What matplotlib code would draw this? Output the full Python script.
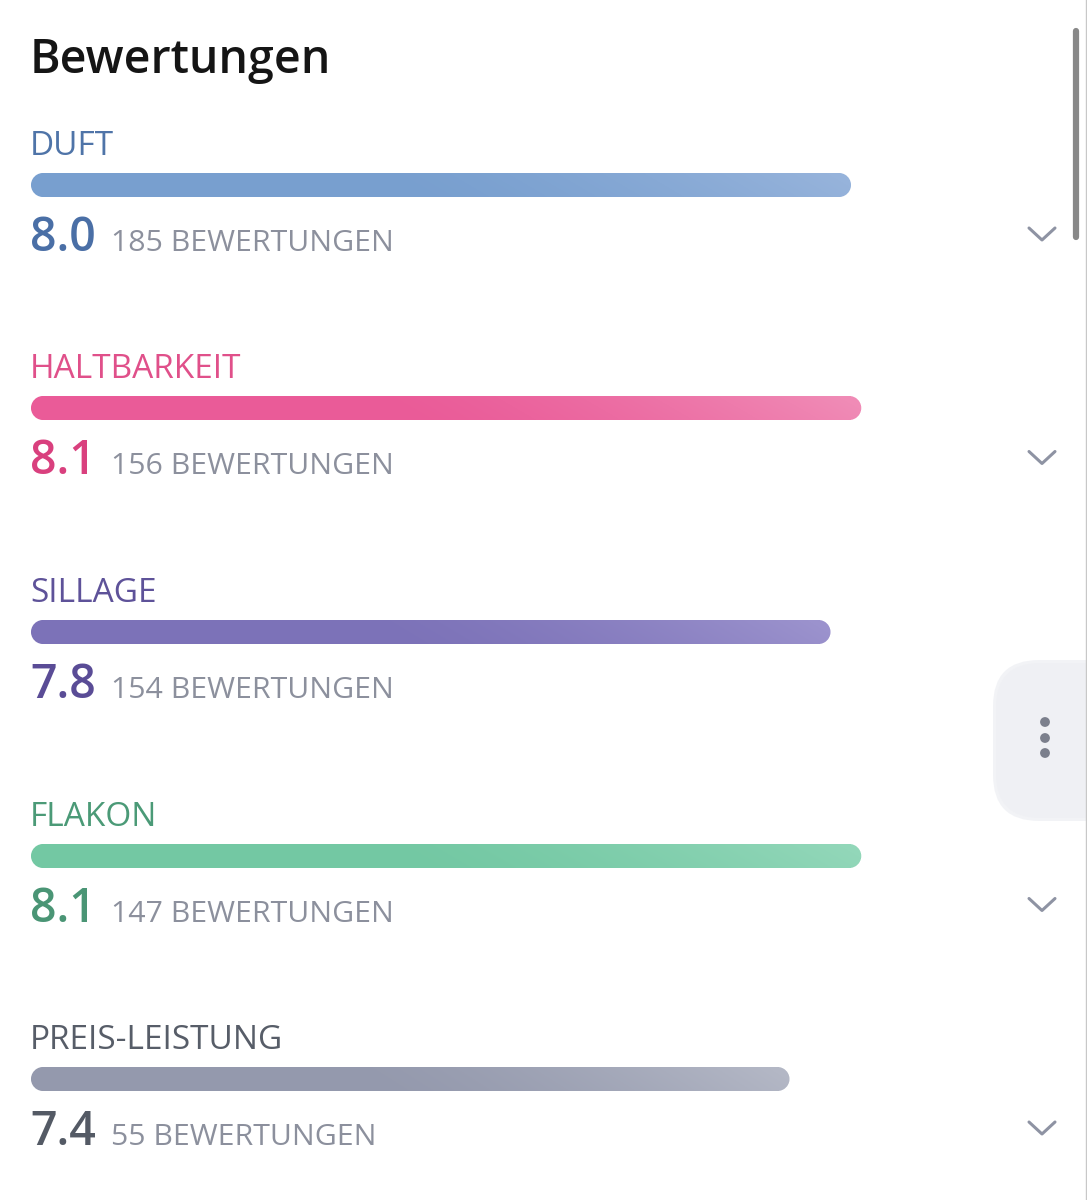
import numpy as np
import matplotlib.pyplot as plt
from matplotlib.patches import FancyBboxPatch
from matplotlib.colors import to_rgb

# Daten
categories = ['DUFT', 'HALTBARKEIT', 'SILLAGE', 'FLAKON', 'PREIS-LEISTUNG']
scores = [8.0, 8.1, 7.8, 8.1, 7.4]
counts = [185, 156, 154, 147, 55]

# Farben: Label, Wert, Balken-Start, Balken-Ende
label_colors = ['#4f74a8', '#e0508a', '#5e5299', '#4b9a77', '#575d68']
value_colors = ['#4a6fa6', '#d9407e', '#5a4c96', '#4a9575', '#545a65']
bar_start = ['#789fcf', '#ea5b98', '#7c72b8', '#73c8a3', '#9499ad']
bar_end = ['#96b3db', '#f08bb6', '#9b92cd', '#92d7b9', '#b3b7c5']

W, H = 1087, 1200
FONT = 'Open Sans'
fig = plt.figure(figsize=(W / 100, H / 100), dpi=100)
fig.patch.set_facecolor('white')

# Pixel-Achse fuer Texte, Balken und Deko
ax = fig.add_axes([0, 0, 1, 1])
ax.set_xlim(0, W)
ax.set_ylim(H, 0)
ax.axis('off')

# Skalen-Achse: x = Score (0..10)
x0, px_per_pt = 31, 102.5
bx = fig.add_axes([x0 / W, 0, 10 * px_per_pt / W, 1])
bx.set_xlim(0, 10)
bx.set_ylim(H, 0)
bx.axis('off')


def score_to_px(v):
    # Score -> Pixel ueber die Transformationen der Achsen
    disp = bx.transData.transform((v, 0))
    return ax.transData.inverted().transform(disp)[0]


def capsule_image(xa, xb, h, c0, c1, ss=4):
    # RGBA-Bild einer Pille mit Verlauf, Kanten per Supersampling geglaettet
    w = int(np.ceil(xb - xa))
    r = h / 2
    xs = (np.arange(w * ss) + 0.5) / ss
    ys = (np.arange(h * ss) + 0.5) / ss
    X, Y = np.meshgrid(xs, ys)
    cx = np.clip(X, r, (xb - xa) - r)
    inside = (np.hypot(X - cx, Y - r) <= r).astype(float)
    alpha = inside.reshape(h, ss, w, ss).mean(axis=(1, 3))
    gx = (np.arange(w) + 0.5)[None, :] / w
    gy = (np.arange(h) + 0.5)[:, None] / h
    t = np.clip((gx + 0.05 * (1 - gy) - 0.45) / 0.57, 0, 1) ** 1.4
    rgb = c0 * (1 - t[..., None]) + c1 * t[..., None]
    return np.dstack([rgb, alpha]), w


ax.text(30, 73, 'Bewertungen', fontsize=33.5, fontweight='semibold',
        family=FONT, color='#151515', va='baseline')

step = 223.5
bar_h = 24
for i, (cat, s, n) in enumerate(zip(categories, scores, counts)):
    off = i * step
    ax.text(30, 155 + off, cat, fontsize=24, family=FONT,
            color=label_colors[i], va='baseline')

    yc = round(185 + off)
    xa, xb = score_to_px(0), score_to_px(s)
    img, w = capsule_image(xa, xb, bar_h, np.array(to_rgb(bar_start[i])),
                           np.array(to_rgb(bar_end[i])))
    ax.imshow(img, extent=(round(xa), round(xa) + w, yc + bar_h / 2, yc - bar_h / 2),
              aspect='auto', interpolation='nearest', zorder=3)

    ax.text(30, 251 + off, f'{s:.1f}', fontsize=33.5, fontweight='semibold',
            family=FONT, color=value_colors[i], va='baseline')
    ax.text(111, 251 + off, f'{n} BEWERTUNGEN', fontsize=21.8, family=FONT,
            color='#8c909d', va='baseline')

    # Chevron
    ax.plot([1029, 1042, 1055], [228 + off, 240 + off, 228 + off], color='#8e93a3',
            lw=2.2, solid_capstyle='round', solid_joinstyle='round', zorder=4)

ax.set_xlim(0, W)
ax.set_ylim(H, 0)

# Seitliches Menue
shadow = FancyBboxPatch((993, 660), 150, 161, boxstyle='round,pad=0,rounding_size=46',
                        facecolor='#e6e8ee', edgecolor='none', alpha=0.5, zorder=5)
ax.add_patch(shadow)
tab = FancyBboxPatch((996, 663), 150, 155, boxstyle='round,pad=0,rounding_size=44',
                     facecolor='#eff0f4', edgecolor='none', zorder=6)
ax.add_patch(tab)
ax.scatter([1045, 1045, 1045], [722, 738, 753], s=50, color='#7b7f8c', zorder=7,
           edgecolors='none')

# Scrollbar und Rand
ax.plot([1076, 1076], [31, 237], color='#888888', lw=4.5, solid_capstyle='round', zorder=8)
ax.plot([1086, 1086], [0, H], color='#c8c8c8', lw=1, zorder=8)

fig.savefig('out.png', dpi=100, facecolor='white')
